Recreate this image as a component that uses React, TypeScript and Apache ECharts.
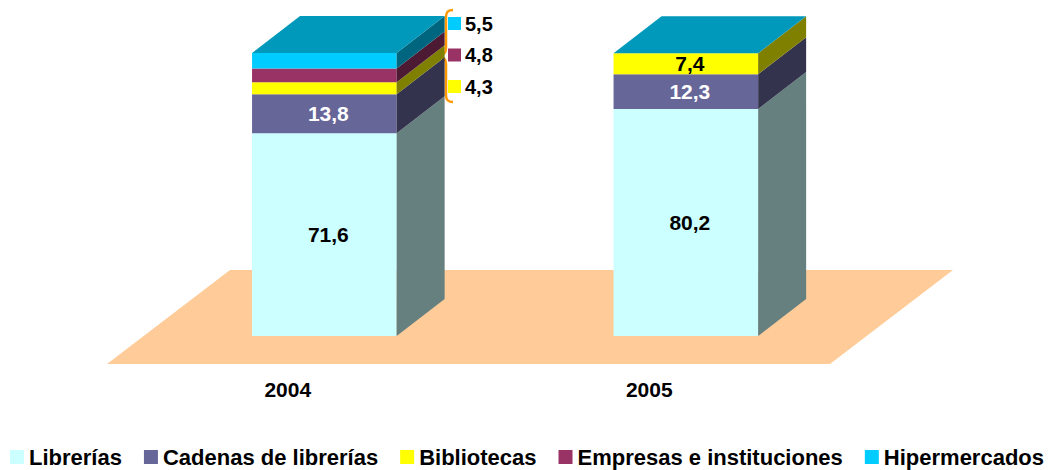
import React, { useEffect, useRef } from 'react';
import * as echarts from 'echarts';

// ---- data ----
const categories = ['2004', '2005'];
const seriesNames = ['Librerías', 'Cadenas de librerías', 'Bibliotecas', 'Empresas e instituciones', 'Hipermercados'];
const libreriasValues = [71.6, 80.2];
const cadenasValues = [13.8, 12.3];
const bibliotecasValues = [4.3, 7.4];
const empresasValues = [4.8, 0];
const hipermercadosValues = [5.5, 0];
const seriesValues = [libreriasValues, cadenasValues, bibliotecasValues, empresasValues, hipermercadosValues];

// ---- styles ----
const frontColors = ['#CCFFFF', '#666699', '#FFFF00', '#993366', '#00CCFF'];
const sideColors = ['#668080', '#33334D', '#808000', '#4D1A33', '#006680'];
const labelColors = ['#000000', '#FFFFFF', '#000000', '#FFFFFF', '#000000'];
const TOP_COLOR = '#0099BB';
const FLOOR_COLOR = '#FFCC99';
const BRACE_COLOR = '#FF9900';
const FONT = '"Liberation Sans", Arial, Helvetica, sans-serif';

const FLOOR_DX = 123;
const FLOOR_DY = -94;
const FRONT_DX = 36.6;
const FRONT_DY = -28;
const DEPTH_DX = 48;
const DEPTH_DY = -37;
const BAR_RATIO = 0.4;
const INNER_LABEL_MIN = 6;

const fmt = (v: number) => v.toFixed(1).replace('.', ',');

const BRACE_D = 'M 17 0 C 12 0 10 2 10 7 L 10 38 C 10 43 8 45 1 46 C 8 47 10 49 10 54 L 10 85 C 10 90 12 92 17 92';
echarts.graphic.registerShape('brace', echarts.graphic.extendPath(BRACE_D, {}));

function buildOption() {
  const last = seriesValues.length - 1;
  const cumul = categories.map(() => 0);
  const barSeries = seriesValues.map((vals, s) => {
    const data = vals.map((v, i) => {
      const start = cumul[i];
      cumul[i] += v;
      return [i, start, start + v, v];
    });
    return {
      type: 'custom',
      name: seriesNames[s],
      itemStyle: { color: frontColors[s] },
      encode: { x: 0, y: [1, 2] },
      z: 2,
      silent: true,
      data,
      renderItem: (params: any, api: any) => {
        const cat = api.value(0);
        const start = api.value(1);
        const end = api.value(2);
        const v = api.value(3);
        const base = api.coord([cat, start]);
        const top = api.coord([cat, end]);
        const w = api.size([1, 0])[0] * BAR_RATIO;
        const xl = base[0] + FRONT_DX - w / 2;
        const xr = xl + w;
        const yb = base[1] + FRONT_DY;
        const yt = top[1] + FRONT_DY;
        const children: any[] = [
          { type: 'rect', shape: { x: xl, y: yt, width: w, height: yb - yt }, style: { fill: frontColors[s] } },
          {
            type: 'polygon',
            shape: { points: [[xr, yb], [xr + DEPTH_DX, yb + DEPTH_DY], [xr + DEPTH_DX, yt + DEPTH_DY], [xr, yt]] },
            style: { fill: sideColors[s] },
          },
        ];
        if (s === last) {
          children.push({
            type: 'polygon',
            shape: { points: [[xl, yt], [xr, yt], [xr + DEPTH_DX, yt + DEPTH_DY], [xl + DEPTH_DX, yt + DEPTH_DY]] },
            style: { fill: TOP_COLOR },
          });
        }
        if (v >= INNER_LABEL_MIN) {
          children.push({
            type: 'text',
            style: {
              text: fmt(v),
              x: (xl + xr) / 2 + 4,
              y: (yt + yb) / 2,
              align: 'center',
              verticalAlign: 'middle',
              fill: labelColors[s],
              font: `bold 21px ${FONT}`,
            },
          });
        }
        return { type: 'group', children };
      },
    };
  });

  const floorSeries = {
    type: 'custom',
    name: 'floor',
    z: 1,
    silent: true,
    data: [[0, 0]],
    renderItem: (params: any) => {
      const cs = params.coordSys;
      const x0 = cs.x;
      const x1 = cs.x + cs.width;
      const y = cs.y + cs.height;
      return {
        type: 'polygon',
        shape: { points: [[x0, y], [x1, y], [x1 + FLOOR_DX, y + FLOOR_DY], [x0 + FLOOR_DX, y + FLOOR_DY]] },
        style: { fill: FLOOR_COLOR },
      };
    },
  };

  // annotation for the small 2004 segments (top to bottom)
  const small = seriesValues
    .map((vals, s) => ({ s, v: vals[0] }))
    .filter((d) => d.v > 0 && d.v < INNER_LABEL_MIN)
    .reverse();
  const annotation: any[] = [
    { type: 'brace', x: 436, y: 10, silent: true, style: { stroke: BRACE_COLOR, fill: 'none', lineWidth: 2.5 } },
  ];
  small.forEach((d, i) => {
    const cy = 23.5 + 31.5 * i;
    annotation.push({ type: 'rect', shape: { x: 448, y: cy - 6.5, width: 13, height: 13 }, style: { fill: frontColors[d.s] } });
    annotation.push({
      type: 'text',
      x: 465,
      y: cy,
      style: { text: fmt(d.v), fill: '#000', font: `bold 20px ${FONT}`, verticalAlign: 'middle', align: 'left' },
    });
  });

  return {
    animation: false,
    grid: { left: 107, right: 224, top: 81, bottom: 106, containLabel: false },
    xAxis: {
      type: 'category',
      data: categories,
      axisLine: { show: false },
      axisTick: { show: false },
      splitLine: { show: false },
      axisLabel: { fontSize: 21, fontWeight: 'bold', color: '#000', fontFamily: FONT, margin: 15 },
    },
    yAxis: { type: 'value', min: 0, max: 100, show: false },
    legend: {
      data: seriesNames,
      left: 10,
      top: 446,
      padding: 0,
      icon: 'rect',
      itemWidth: 14,
      itemHeight: 14,
      itemGap: 22,
      selectedMode: false,
      textStyle: { fontSize: 22, fontWeight: 'bold', color: '#000', fontFamily: FONT },
    },
    graphic: annotation,
    series: [floorSeries, ...barSeries],
  };
}

export default function App() {
  const ref = useRef<HTMLDivElement>(null);
  useEffect(() => {
    if (!ref.current) return;
    const chart = echarts.init(ref.current, undefined, { renderer: 'svg' });
    chart.setOption(buildOption() as any);
    return () => chart.dispose();
  }, []);
  return <div ref={ref} style={{ position: 'fixed', left: 0, top: 0, width: 1054, height: 470, background: '#fff' }} />;
}
